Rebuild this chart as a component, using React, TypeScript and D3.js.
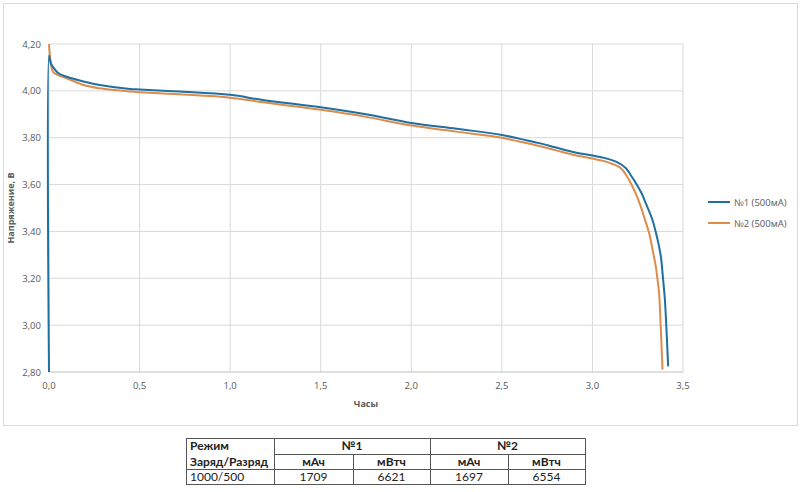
import * as d3 from 'd3';

// discharge curve, cell #1 (hours, volts)
const hours1 = [0, 0, 0.006, 0.012, 0.024, 0.05, 0.098, 0.19, 0.28, 0.447, 0.5, 0.722, 1.0, 1.18, 1.5, 1.75, 2.0, 2.25, 2.5, 2.6, 2.7, 2.8, 2.9, 3.0, 3.07, 3.13, 3.185, 3.21, 3.24, 3.27, 3.295, 3.331, 3.352, 3.368, 3.38, 3.387, 3.40, 3.408, 3.418];
const volts1 = [2.80, 4.15, 4.13, 4.115, 4.10, 4.076, 4.06, 4.04, 4.025, 4.008, 4.006, 3.997, 3.983, 3.961, 3.93, 3.90, 3.863, 3.838, 3.812, 3.795, 3.778, 3.758, 3.738, 3.724, 3.713, 3.698, 3.67, 3.642, 3.606, 3.565, 3.52, 3.45, 3.39, 3.335, 3.28, 3.222, 3.108, 2.994, 2.824];

// discharge curve, cell #2
const hours2 = [0, 0.004, 0.008, 0.017, 0.03, 0.098, 0.19, 0.28, 0.447, 0.5, 0.722, 1.0, 1.18, 1.5, 1.75, 2.0, 2.25, 2.5, 2.6, 2.7, 2.8, 2.9, 3.0, 3.06, 3.111, 3.157, 3.185, 3.212, 3.24, 3.267, 3.29, 3.313, 3.335, 3.35, 3.36, 3.368, 3.377, 3.387];
const volts2 = [4.20, 4.16, 4.13, 4.09, 4.075, 4.054, 4.025, 4.011, 3.997, 3.994, 3.985, 3.971, 3.951, 3.919, 3.889, 3.852, 3.826, 3.80, 3.783, 3.766, 3.746, 3.726, 3.711, 3.701, 3.688, 3.67, 3.642, 3.606, 3.56, 3.506, 3.45, 3.393, 3.31, 3.25, 3.19, 3.137, 2.994, 2.81];

const xTicks = [0, 0.5, 1.0, 1.5, 2.0, 2.5, 3.0, 3.5];
const yTicks = [2.8, 3.0, 3.2, 3.4, 3.6, 3.8, 4.0, 4.2];

const seriesNames = ['№1 (500мА)', '№2 (500мА)'];
const seriesColors = ['#1f6fa0', '#dd8c4c'];

// capacity table
const tableHeader = ['Режим', '№1', '№2'];
const tableSubHeader = ['Заряд/Разряд', 'мАч', 'мВтч', 'мАч', 'мВтч'];
const tableRow = ['1000/500', '1709', '6621', '1697', '6554'];

const W = 800;
const H = 492;
const plot = { left: 49, right: 683, top: 44, bottom: 372 };
const font = '"Open Sans", "Noto Sans", sans-serif';
const tableFont = '"Lato", "Liberation Sans", sans-serif';

export default function App() {
  const x = d3.scaleLinear().domain([0, 3.5]).range([plot.left, plot.right]);
  const y = d3.scaleLinear().domain([2.8, 4.2]).range([plot.bottom, plot.top]);

  const makePath = (hs: number[], vs: number[]) =>
    d3
      .line<number>()
      .x((_, i) => x(hs[i]))
      .y((d) => y(d))
      .curve(d3.curveCatmullRom.alpha(0.5))(vs) ?? '';

  const path1 = makePath(hours1, volts1);
  const path2 = makePath(hours2, volts2);

  const fmtX = (v: number) => v.toFixed(1).replace('.', ',');
  const fmtY = (v: number) => v.toFixed(2).replace('.', ',');

  // table geometry
  const colX = [186, 274, 353, 430, 508, 585];
  const rowY = [438, 454, 469, 484];

  return (
    <svg
      width={W}
      height={H}
      style={{ position: 'absolute', left: 0, top: 0, background: '#fff' }}
    >
      <rect x={3.5} y={3.5} width={794} height={422} fill="#fff" stroke="#d9d9d9" />

      {/* grid */}
      {xTicks.map((t) => (
        <line key={'gx' + t} x1={x(t)} x2={x(t)} y1={plot.top} y2={plot.bottom} stroke="#d9d9d9" strokeWidth={1} />
      ))}
      {yTicks.map((t) => (
        <line key={'gy' + t} x1={plot.left} x2={plot.right} y1={y(t)} y2={y(t)} stroke={t === 2.8 ? '#bfbfbf' : '#d9d9d9'} strokeWidth={1} />
      ))}

      {/* tick labels */}
      {yTicks.map((t) => (
        <text key={'ly' + t} x={41} y={y(t) + 3.5} textAnchor="end" fontSize={9.5} fill="#595959" fontFamily={font}>
          {fmtY(t)}
        </text>
      ))}
      {xTicks.map((t) => (
        <text key={'lx' + t} x={x(t)} y={389} textAnchor="middle" fontSize={9.5} fill="#595959" fontFamily={font}>
          {fmtX(t)}
        </text>
      ))}

      {/* axis titles */}
      <text x={366} y={407} textAnchor="middle" fontSize={9} fontWeight="bold" fill="#595959" fontFamily={font}>
        Часы
      </text>
      <text
        transform={`translate(14,${(plot.top + plot.bottom) / 2}) rotate(-90)`}
        textAnchor="middle"
        fontSize={9}
        fontWeight="bold"
        fill="#595959"
        fontFamily={font}
      >
        Напряжение, В
      </text>

      {/* series */}
      <path d={path2} fill="none" stroke={seriesColors[1]} strokeWidth={2} strokeLinejoin="round" />
      <path d={path1} fill="none" stroke={seriesColors[0]} strokeWidth={2} strokeLinejoin="round" />

      {/* legend */}
      {seriesNames.map((name, i) => (
        <g key={name} transform={`translate(708,${202 + i * 21})`}>
          <line x1={0} x2={22} y1={0} y2={0} stroke={seriesColors[i]} strokeWidth={2} />
          <text x={26} y={3.5} fontSize={9.5} fill="#595959" fontFamily={font}>
            {name}
          </text>
        </g>
      ))}

      {/* table */}
      <g fontFamily={tableFont} fontSize={12} fill="#222">
        <rect x={colX[0] + 0.5} y={rowY[0] + 0.5} width={colX[5] - colX[0]} height={rowY[3] - rowY[0]} fill="none" stroke="#555" />
        <line x1={colX[1] + 0.5} x2={colX[1] + 0.5} y1={rowY[0]} y2={rowY[3]} stroke="#555" />
        <line x1={colX[3] + 0.5} x2={colX[3] + 0.5} y1={rowY[0]} y2={rowY[3]} stroke="#555" />
        <line x1={colX[2] + 0.5} x2={colX[2] + 0.5} y1={rowY[1]} y2={rowY[3]} stroke="#555" />
        <line x1={colX[4] + 0.5} x2={colX[4] + 0.5} y1={rowY[1]} y2={rowY[3]} stroke="#555" />
        <line x1={colX[1]} x2={colX[5]} y1={rowY[1] + 0.5} y2={rowY[1] + 0.5} stroke="#555" />
        <line x1={colX[0]} x2={colX[5]} y1={rowY[2] + 0.5} y2={rowY[2] + 0.5} stroke="#555" />

        <text x={colX[0] + 4} y={rowY[0] + 12} fontWeight="bold">{tableHeader[0]}</text>
        <text x={(colX[1] + colX[3]) / 2} y={rowY[0] + 12} textAnchor="middle" fontWeight="bold">{tableHeader[1]}</text>
        <text x={(colX[3] + colX[5]) / 2} y={rowY[0] + 12} textAnchor="middle" fontWeight="bold">{tableHeader[2]}</text>

        {tableSubHeader.map((s, i) => (
          <text
            key={'sh' + i}
            x={i === 0 ? colX[0] + 4 : (colX[i] + colX[i + 1]) / 2}
            y={rowY[1] + 12}
            textAnchor={i === 0 ? 'start' : 'middle'}
            fontWeight="bold"
          >
            {s}
          </text>
        ))}
        {tableRow.map((s, i) => (
          <text
            key={'r' + i}
            x={i === 0 ? colX[0] + 4 : (colX[i] + colX[i + 1]) / 2}
            y={rowY[2] + 12}
            textAnchor={i === 0 ? 'start' : 'middle'}
          >
            {s}
          </text>
        ))}
      </g>
    </svg>
  );
}
